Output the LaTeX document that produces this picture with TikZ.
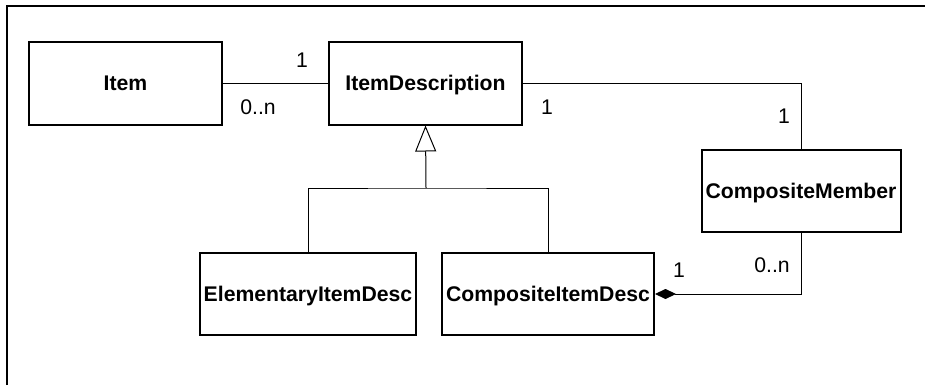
\documentclass[tikz,border=0pt]{standalone}
\usepackage{fontspec}
\setmainfont{Liberation Sans}
\usetikzlibrary{arrows.meta}

\begin{document}
\begin{tikzpicture}[x=0.5pt, y=-0.5pt,
    class/.style={draw, line width=1pt, minimum height=41pt, inner sep=0pt,
      font=\fontsize{10.6}{12}\selectfont\bfseries, text height=0.72em, text depth=0pt},
    mult/.style={inner sep=0pt, font=\fontsize{10.6}{12}\selectfont,
      text height=0.72em, text depth=0pt},
    link/.style={line width=0.5pt}]

  \useasboundingbox (0,0) rectangle (925,385);
  \draw[line width=1pt] (6.5,385) -- (6.5,6.5) -- (925,6.5);

  % classes
  \node[class, minimum width=96.5pt] (item) at (125.5,83.5) {Item};
  \node[class, minimum width=96.5pt] (desc) at (425.5,83.5) {ItemDescription};
  \node[class, minimum width=99.5pt] (member) at (801,191) {CompositeMember};
  \node[class, minimum width=108pt] (elem) at (308,294) {ElementaryItemDesc};
  \node[class, minimum width=106pt] (comp) at (548,294) {CompositeItemDesc};

  % item -- description
  \draw[link] (item) -- (desc);
  \node[mult] (itemmult) at (258,107) {0..n};
  \node[mult] (descmult) at (302,60) {1};

  % generalization
  \coordinate (fork) at (426,188);
  \draw[link] (elem.north) |- (fork) -| (comp.north);
  \draw[link, -{Triangle[open, length=13pt, width=10.5pt]}] (fork) -- (desc.south);

  % description -- member
  \draw[link] (desc.east) -| (member.north);
  \node[mult] (descone) at (547,107) {1};
  \node[mult] (memberone) at (784,116) {1};

  % composition
  \draw[link, {Diamond[length=10.5pt, width=5pt]}-] (comp.east) -| (member.south);
  \node[mult] (compone) at (679,270) {1};
  \node[mult] (membermult) at (772,265) {0..n};

\end{tikzpicture}
\end{document}
